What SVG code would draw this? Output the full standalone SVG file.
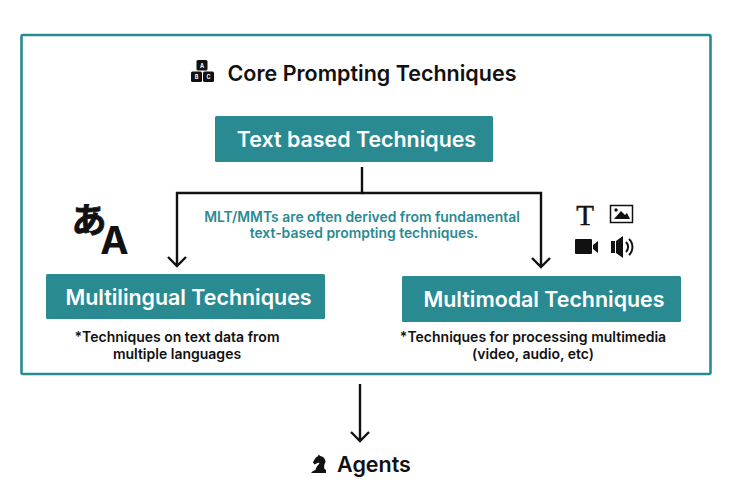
<svg xmlns="http://www.w3.org/2000/svg" width="738" height="485" viewBox="0 0 738 485">
<style>
text{font-family:Inter,"Noto Sans CJK JP",sans-serif;text-anchor:middle}
.box{fill:#2a8a92}
.bt{fill:#fff;font-weight:600;font-size:21.4px}
.note{fill:#111;font-weight:600;font-size:14px}
.h{fill:#111;font-weight:600;font-size:21.5px}
.conn{fill:none;stroke:#111;stroke-width:2.4}
.cap{fill:#fff;font-weight:700;font-size:5.500px}
</style>
<rect width="738" height="485" fill="#fff"/>
<g id="frame"><rect x="21.500" y="35" width="689" height="339" fill="none" stroke="#2a8a92" stroke-width="2.600" rx="1.500"/></g>
<g id="connectors">
<path class="conn" d="M362 167V193H177V266M168 257L177 266L186 257"/>
<path class="conn" d="M362 193H541V267M532 258L541 267L550 258"/>
<path class="conn" d="M360 384V441M351 432L360 441L369 432"/>
</g>
<g id="core-title">
<g fill="#111"><rect x="196.500" y="60" width="11" height="10.500" rx="1.500"/><rect x="191" y="71.500" width="11" height="10.500" rx="1.500"/><rect x="203" y="71.500" width="11" height="10.500" rx="1.500"/></g>
<text class="cap" x="202" y="67.500">A</text><text class="cap" x="196.500" y="79">B</text><text class="cap" x="208.500" y="79">C</text>
<text class="h" x="372" y="80.500">Core Prompting Techniques</text>
</g>
<g id="text-based"><rect class="box" x="215" y="116" width="278" height="46" rx="1.500"/><text class="bt" x="356.500" y="146.500">Text based Techniques</text></g>
<g id="note-center"><text x="362" y="221.500" font-size="13.900" font-weight="600" fill="#2a8a92">MLT/MMTs are often derived from fundamental</text><text x="364" y="237.500" font-size="13.900" font-weight="600" fill="#2a8a92">text-based prompting techniques.</text></g>
<g id="lang-icon"><text x="89" y="233" font-size="35" font-weight="700" fill="#111" stroke="#111" stroke-width=".8" style="font-family:'Noto Sans CJK JP',sans-serif">あ</text><text x="114.500" y="254" font-size="38" font-weight="700" fill="#111">A</text></g>
<g id="multilingual"><rect class="box" x="46" y="274" width="279" height="45" rx="1.500"/><text class="bt" x="188.500" y="304.500">Multilingual Techniques</text>
<text class="note" x="177" y="342">*Techniques on text data from</text><text class="note" x="177" y="359">multiple languages</text></g>
<g id="media-icons">
<text x="585" y="224.500" font-size="29" font-weight="400" fill="#111" stroke="#111" stroke-width=".5" style="font-family:'Liberation Serif',serif">T</text>
<rect x="610.500" y="205.500" width="22" height="17" fill="none" stroke="#111" stroke-width="1.500"/>
<path d="M614 219L621 211L625 215L627 213L630 219Z" fill="#111"/><circle cx="616" cy="210" r="1.700" fill="#111"/>
<path d="M576 239h15a1 1 0 0 1 1 1v13a1 1 0 0 1-1 1h-15a1 1 0 0 1-1-1v-13a1 1 0 0 1 1-1ZM593 245l5-4v12l-5-4Z" fill="#111"/>
<path d="M611 241h4v12h-4ZM616 241l7-5v22l-7-5Z" fill="#111"/>
<path d="M626 242a7 7 0 0 1 0 10M629 239a11 11 0 0 1 0 16" fill="none" stroke="#111" stroke-width="2"/>
</g>
<g id="multimodal"><rect class="box" x="402" y="276" width="279" height="46" rx="1.500"/><text class="bt" x="544" y="307">Multimodal Techniques</text>
<text class="note" x="533" y="342">*Techniques for processing multimedia</text><text class="note" x="533" y="359">(video, audio, etc)</text></g>
<g id="agents">
<path d="M311 473h15v-3l-1.500-1c-1-3 0-5 1-7 0-3-2-5.500-5.500-6l-1-1.500-1.500 2c-2.500 1-3.500 4-4.500 6l1.500 2 4-2 1 1c-2 2-3.500 3.500-4 6.500l-2.500 1Z" fill="#111"/>
<text class="h" x="374" y="471.500">Agents</text>
</g>
</svg>
